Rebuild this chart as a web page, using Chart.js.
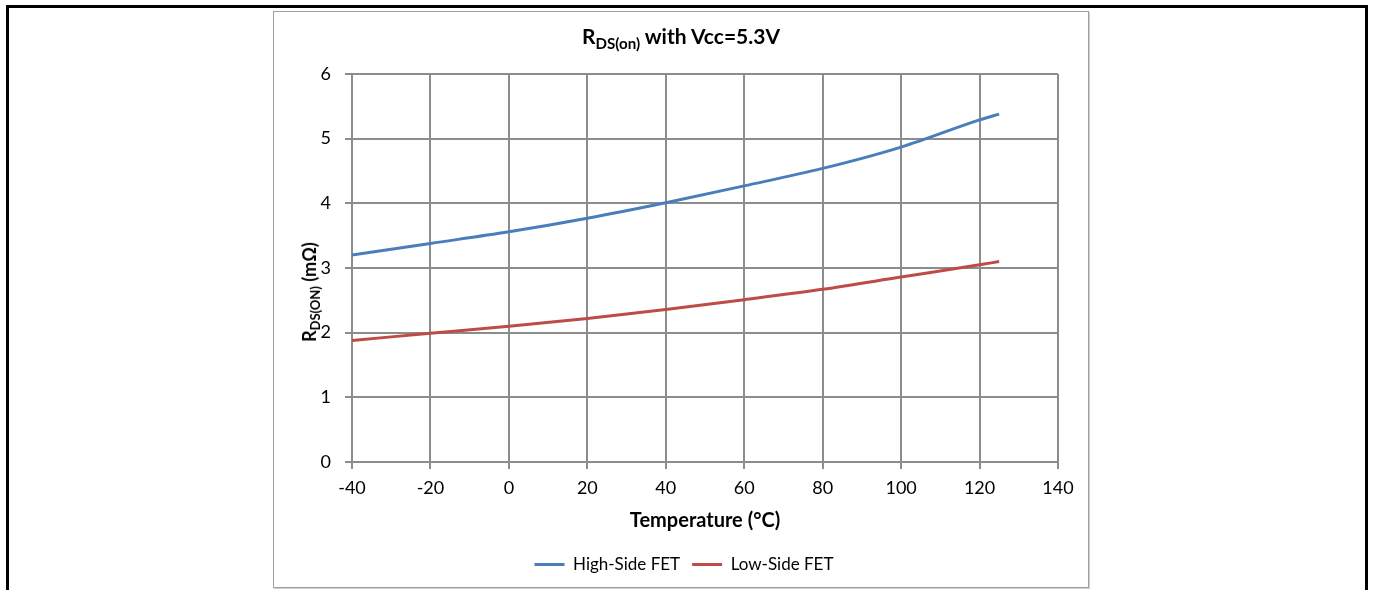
<!DOCTYPE html>
<html>
<head>
<meta charset="utf-8">
<script src="https://cdn.jsdelivr.net/npm/chart.js@4.4.1/dist/chart.umd.min.js"></script>
<style>
  html, body { margin: 0; padding: 0; background: #fff; overflow: hidden; }
  body { width: 1375px; height: 590px; position: relative; font-family: Lato, "Open Sans", sans-serif; color: #000; }
  #frame { position: absolute; left: 6px; top: 5px; width: 1356px; height: 700px; border: 3px solid #000; }
  #box { position: absolute; left: 273px; top: 11px; width: 814px; height: 575px; border: 1px solid #a0a0a0; box-shadow: 1px 1px 0 #d0d0d0; }
  #box canvas { position: absolute; left: 0; top: 0; }
  #title { position: absolute; left: 0; width: 814px; top: 11px; text-align: center; font-weight: bold; font-size: 21px; }
  #ytitle { position: absolute; left: 35px; top: 280px; width: 0; height: 0; }
  #ytitle span.rot { position: absolute; transform: translate(-50%, -50%) rotate(-90deg); white-space: nowrap; font-weight: bold; font-size: 18px; }
  sub { font-size: 0.72em; vertical-align: -0.32em; line-height: 0; }
</style>
</head>
<body>
<div id="frame"></div>
<div id="box">
  <canvas id="chart" width="814" height="575"></canvas>
  <div id="title">R<sub>DS(on)</sub> with Vcc=5.3V</div>
  <div id="ytitle"><span class="rot">R<sub>DS(ON)</sub> (mΩ)</span></div>
</div>
<script>
const temps = [-40, -20, 0, 20, 40, 60, 80, 100, 120, 125];
const highSide = [3.20, 3.38, 3.56, 3.77, 4.01, 4.27, 4.54, 4.87, 5.29, 5.38];
const lowSide = [1.88, 1.99, 2.10, 2.22, 2.36, 2.51, 2.67, 2.86, 3.05, 3.10];
const seriesNames = ["High-Side FET", "Low-Side FET"];
const seriesColors = ["#4a7ebb", "#be4b48"];

const gridColor = "#8c8c8c";

function toPoints(values) {
  return temps.map((t, i) => ({ x: t, y: values[i] }));
}

const ctx = document.getElementById("chart");

new Chart(ctx, {
  type: "line",
  data: {
    datasets: [highSide, lowSide].map((vals, i) => ({
      label: seriesNames[i],
      data: toPoints(vals),
      borderColor: seriesColors[i],
      backgroundColor: seriesColors[i],
      borderWidth: 3,
      pointRadius: 0,
      cubicInterpolationMode: "monotone",
      fill: false
    }))
  },
  options: {
    responsive: false,
    animation: false,
    layout: { padding: { top: 62, right: 30, left: 36, bottom: 4 } },
    plugins: {
      title: { display: false },
      tooltip: { enabled: false },
      legend: {
        position: "bottom",
        labels: {
          usePointStyle: true,
          pointStyle: "line",
          pointStyleWidth: 30,
          color: "#000",
          padding: 12,
          font: { family: "Lato", size: 17 }
        }
      }
    },
    scales: {
      x: {
        type: "linear",
        min: -40,
        max: 140,
        ticks: { stepSize: 20, color: "#000", padding: 8, font: { family: "Lato", size: 18 } },
        grid: { color: gridColor, lineWidth: 2, tickLength: 7 },
        border: { color: gridColor, width: 2 },
        title: {
          display: true,
          text: "Temperature (°C)",
          color: "#000",
          font: { family: "Lato", size: 20, weight: "bold" },
          padding: { top: 0, bottom: 11 }
        },
        afterFit: s => { s.height = 82; }
      },
      y: {
        min: 0,
        max: 6,
        ticks: { stepSize: 1, color: "#000", padding: 14, font: { family: "Lato", size: 18 } },
        grid: { color: gridColor, lineWidth: 2, tickLength: 7 },
        border: { color: gridColor, width: 2 },
        afterFit: s => { s.width = 42; }
      }
    }
  }
});
</script>
</body>
</html>
